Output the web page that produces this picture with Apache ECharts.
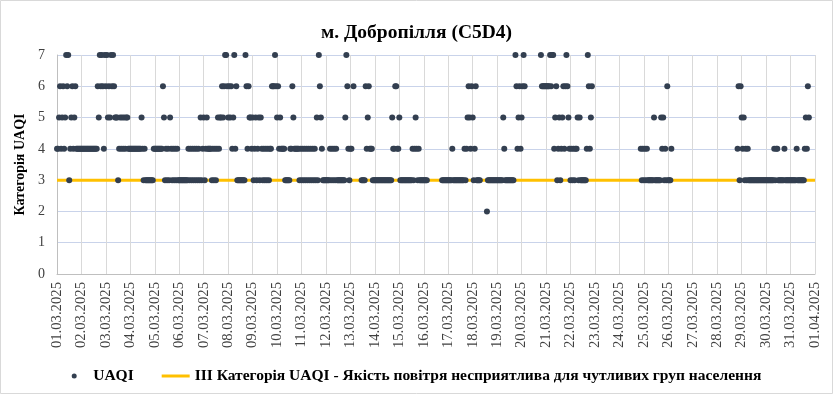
<!DOCTYPE html>
<html><head><meta charset="utf-8">
<script src="https://cdn.jsdelivr.net/npm/echarts@6/dist/echarts.min.js"></script>
<style>html,body{margin:0;padding:0;background:#fff}#c{width:833px;height:394px}</style>
</head><body><div id="c"></div>
<script>
const titleText = 'м. Добропілля (C5D4)';
const yAxisName = 'Категорія UAQI';
const seriesNames = ['UAQI', 'III Категорія UAQI - Якість повітря несприятлива для чутливих груп населення'];
const dayLabels = ['01.03.2025','02.03.2025','03.03.2025','04.03.2025','05.03.2025','06.03.2025','07.03.2025','08.03.2025',
  '09.03.2025','10.03.2025','11.03.2025','12.03.2025','13.03.2025','14.03.2025','15.03.2025','16.03.2025','17.03.2025',
  '18.03.2025','19.03.2025','20.03.2025','21.03.2025','22.03.2025','23.03.2025','24.03.2025','25.03.2025','26.03.2025',
  '27.03.2025','28.03.2025','29.03.2025','30.03.2025','31.03.2025','01.04.2025'];
const yTicks = [0, 1, 2, 3, 4, 5, 6, 7];
const thresholdValue = 3;
// hourly UAQI category from 01.03.2025 00:00, one character per hour, '-' = no data
const hourlyUAQI = [
  '44564564576734564564444',
  '444444444444444446576764',
  '767565767655534545454554',
  '44444444444454343333333',
  '344444444465343435434343',
  '433333333334343434343435',
  '345345444434343454556567',
  '765656457463333333376465',
  '545345345354343434344666',
  '76564544443333344654444',
  '434343434343434343537654',
  '333333343434343333333357',
  '64344-6-------3333645644',
  '433333333333333333335446',
  '644533333333333343454343',
  '3333333--------------33',
  '333333334333333333334345',
  '654653463333------233333',
  '333333333354333333333-76',
  '45645676---------------7',
  '666666667677456345345646',
  '76543434344535333333476',
  '456---------------------',
  '------------------------',
  '--4343434333333533333354',
  '534363334---------------',
  '------------------------',
  '-----------------------',
  '--4636545343433333333333',
  '333333333333334344333333',
  '433333333333433333334546',
  '5'
];

const uaqiPoints = [];
hourlyUAQI.join('').split('').forEach((ch, i) => { if (ch !== '-') uaqiPoints.push([i, Number(ch)]); });
const xMax = (dayLabels.length - 1) * 24;
const serif = 'Liberation Serif, Times New Roman, serif';

const chart = echarts.init(document.getElementById('c'), null, { renderer: 'canvas' });
chart.setOption({
  animation: false,
  backgroundColor: '#fff',
  graphic: [{ type: 'rect', shape: { x: 0.5, y: 0.5, width: 832, height: 393 }, style: { fill: 'none', stroke: '#d9d9d9', lineWidth: 1 }, silent: true }],
  title: { text: titleText, left: 'center', top: 18, textStyle: { fontFamily: serif, fontSize: 19.5, fontWeight: 'bold', color: '#000' } },
  grid: { left: 57, right: 18, top: 55, bottom: 120 },
  legend: {
    bottom: 5, left: 'center', itemGap: 28, itemWidth: 28, itemHeight: 5,
    textStyle: { fontFamily: serif, fontSize: 15.5, fontWeight: 'bold', color: '#000' },
    data: [
      { name: seriesNames[0], icon: 'circle' },
      { name: seriesNames[1], icon: 'path://M0,0H28V3H0Z', itemStyle: { color: '#ffc000' } }
    ]
  },
  xAxis: {
    type: 'value', min: 0, max: xMax, interval: 24,
    axisLine: { show: true, lineStyle: { color: '#bfbfbf' } },
    axisTick: { show: false },
    splitLine: { show: true, lineStyle: { color: '#d9d9d9', width: 1 } },
    axisLabel: { rotate: 90, margin: 8, fontFamily: serif, fontSize: 14.7, color: '#404040',
      formatter: v => dayLabels[Math.round(v / 24)] }
  },
  yAxis: {
    type: 'value', min: yTicks[0], max: yTicks[yTicks.length - 1], interval: 1,
    name: yAxisName, nameLocation: 'middle', nameGap: 30, nameRotate: 90,
    nameTextStyle: { fontFamily: serif, fontSize: 14, fontWeight: 'bold', color: '#000' },
    axisLine: { show: true, lineStyle: { color: '#bfbfbf' } },
    axisTick: { show: false },
    splitLine: { show: true, lineStyle: { color: '#c9d3ea', width: 1 } },
    axisLabel: { margin: 12, fontFamily: serif, fontSize: 14, color: '#404040' }
  },
  series: [
    { name: seriesNames[1], type: 'line', data: [[0, thresholdValue], [xMax, thresholdValue]], symbol: 'none',
      lineStyle: { color: '#ffc000', width: 3 }, itemStyle: { color: '#ffc000' }, z: 2 },
    { name: seriesNames[0], type: 'scatter', data: uaqiPoints, symbolSize: 6,
      itemStyle: { color: '#333f50', opacity: 1 }, z: 3 }
  ]
});
</script></body></html>
